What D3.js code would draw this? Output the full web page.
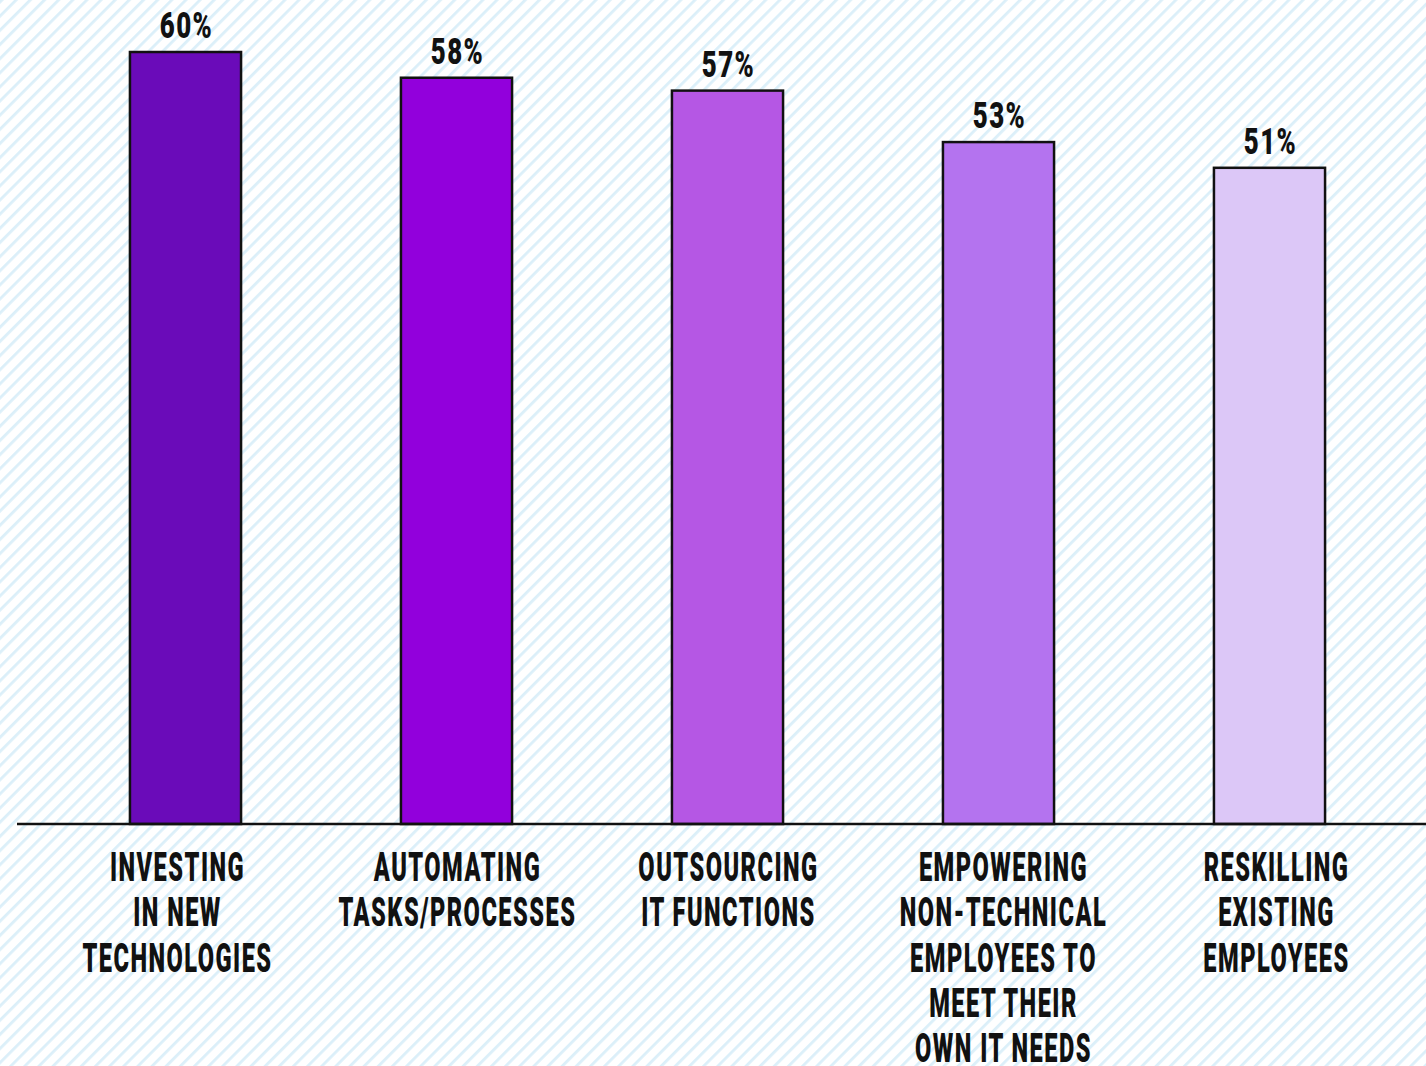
<!DOCTYPE html>
<html>
<head>
<meta charset="utf-8">
<script src="https://cdn.jsdelivr.net/npm/d3@7"></script>
<style>
  html, body { margin: 0; padding: 0; background: #fff; }
  svg { display: block; }
</style>
</head>
<body>
<svg id="chart" width="1426" height="1066"></svg>
<script>
// Share of respondents by approach
const categories = [
  ["INVESTING", "IN NEW", "TECHNOLOGIES"],
  ["AUTOMATING", "TASKS/PROCESSES"],
  ["OUTSOURCING", "IT FUNCTIONS"],
  ["EMPOWERING", "NON-TECHNICAL", "EMPLOYEES TO", "MEET THEIR", "OWN IT NEEDS"],
  ["RESKILLING", "EXISTING", "EMPLOYEES"]
];
const values = [60, 58, 57, 53, 51];
const colors = ["#6a0bb9", "#9200dc", "#b557e4", "#b473ef", "#dcc7f7"];

const W = 1426, H = 1066;
const svg = d3.select("#chart");
const FONT = "Roboto, 'Noto Sans', sans-serif";
// horizontal nudges for the category captions
const captionShift = [-8, 1, 1, 5, 7];

// diagonal pinstripe background
const defs = svg.append("defs");
const pat = defs.append("pattern")
  .attr("id", "stripes")
  .attr("patternUnits", "userSpaceOnUse")
  .attr("width", 10).attr("height", 10)
  .attr("patternTransform", "rotate(45)");
pat.append("rect").attr("width", 10).attr("height", 10).attr("fill", "#ffffff");
pat.append("rect").attr("x", 0).attr("y", 0).attr("width", 2.8).attr("height", 10).attr("fill", "#dbeff9");
svg.append("rect").attr("width", W).attr("height", H).attr("fill", "url(#stripes)");

const baseY = 824;
const idx = d3.range(values.length);
const x = d3.scaleBand().domain(idx).range([50, 1405]).paddingInner(0.59).paddingOuter(0.295);
const y = d3.scaleLinear().domain([0, 60]).range([baseY, 52]);

// bars
svg.append("g").selectAll("rect").data(idx).join("rect")
  .attr("x", i => x(i))
  .attr("y", i => y(values[i]))
  .attr("width", x.bandwidth())
  .attr("height", i => baseY - y(values[i]))
  .attr("fill", i => colors[i])
  .attr("stroke", "#111")
  .attr("stroke-width", 2.5);

// baseline
svg.append("line")
  .attr("x1", 17).attr("x2", W).attr("y1", baseY).attr("y2", baseY)
  .attr("stroke", "#111").attr("stroke-width", 2.6);

// value labels
svg.append("g").selectAll("text").data(idx).join("text")
  .attr("transform", i => `translate(${x(i) + x.bandwidth() / 2 + 1},${y(values[i]) - 14}) scale(0.7,1)`)
  .attr("text-anchor", "middle")
  .attr("font-family", FONT)
  .attr("font-weight", 900)
  .attr("font-size", 37)
  .attr("letter-spacing", 2)
  .attr("fill", "#111")
  .text(i => values[i] + "%");

// category labels
const cat = svg.append("g").selectAll("text").data(idx).join("text")
  .attr("transform", i => `translate(${x(i) + x.bandwidth() / 2 + captionShift[i]},881) scale(0.59,1)`)
  .attr("text-anchor", "middle")
  .attr("font-family", FONT)
  .attr("font-weight", 900)
  .attr("font-size", 40)
  .attr("letter-spacing", 2.5)
  .attr("fill", "#111");
cat.selectAll("tspan").data(i => categories[i]).join("tspan")
  .attr("x", 0)
  .attr("y", (d, j) => j * 45.3)
  .text(d => d);
</script>
</body>
</html>
